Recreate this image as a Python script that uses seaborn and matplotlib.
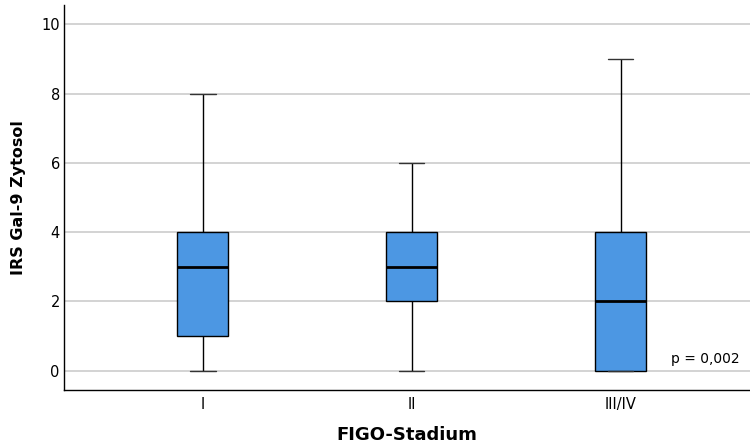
import numpy as np
import pandas as pd
import matplotlib
matplotlib.use("Agg")
import matplotlib.pyplot as plt
import seaborn as sns

# Five-number summaries (min, Q1, median, Q3, max)
categories = ["I", "II", "III/IV"]
stage_I = [0, 1, 3, 4, 8]
stage_II = [0, 2, 3, 4, 6]
stage_III_IV = [0, 0, 2, 4, 9]
y_ticks = [0, 2, 4, 6, 8, 10]
p_text = "p = 0,002"

df = pd.DataFrame({
    "FIGO-Stadium": ["I"] * len(stage_I) + ["II"] * len(stage_II) + ["III/IV"] * len(stage_III_IV),
    "IRS": stage_I + stage_II + stage_III_IV,
})

sns.set_theme(style="white")
plt.rcParams['font.family'] = ['DejaVu Sans']
plt.rcParams['text.color'] = 'black'
plt.rcParams['axes.labelcolor'] = 'black'
plt.rcParams['xtick.color'] = 'black'
plt.rcParams['ytick.color'] = 'black'

fig = plt.figure(figsize=(7.5, 4.48), dpi=100)
ax = fig.add_axes([0.0853, 0.1295, 0.9147, 0.8593])

for y in y_ticks:
    ax.axhline(y, color="#c8c8c8", lw=1.1, zorder=0)

sns.boxplot(data=df, x="FIGO-Stadium", y="IRS", order=categories, ax=ax,
            whis=(0, 100), width=0.245, color="#4c97e3", saturation=1,
            linecolor="black", linewidth=1.0,
            medianprops=dict(color="black", lw=2),
            capprops=dict(color="#333333", lw=1.0),
            boxprops=dict(edgecolor="black", lw=1.0, zorder=2),
            showfliers=False)

ax.set_xlim(-0.665, 2.62)
ax.set_ylim(-0.56, 10.56)
ax.set_yticks(y_ticks)
ax.set_yticklabels([str(v) for v in y_ticks], fontsize=10.5)
ax.set_xticks(range(len(categories)))
ax.set_xticklabels(categories, fontsize=10.5)
ax.tick_params(axis="y", length=0, pad=3, labelcolor="black")
ax.tick_params(axis="x", length=0, pad=5, labelcolor="black")
ax.set_xlabel("FIGO-Stadium", fontsize=13, fontweight="bold", labelpad=10, color="black")
ax.set_ylabel("IRS Gal-9 Zytosol", fontsize=11.5, fontweight="bold", labelpad=11, color="black")

for side in ["top", "right"]:
    ax.spines[side].set_visible(False)
for side in ["left", "bottom"]:
    ax.spines[side].set_color("black")
    ax.spines[side].set_linewidth(1.0)

ax.text(2.24, 0.12, p_text, fontsize=10, ha="left", va="bottom", color="black")

fig.savefig("out.png", dpi=100)
